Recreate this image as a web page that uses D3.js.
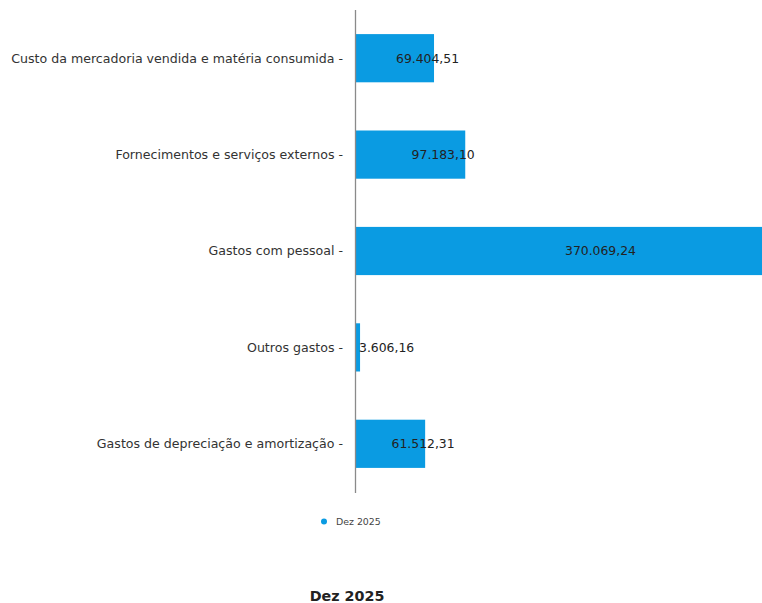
<!DOCTYPE html>
<html><head><meta charset="utf-8">
<script src="https://cdn.jsdelivr.net/npm/d3@7"></script>
<style>html,body{margin:0;padding:0;background:#fff;overflow:hidden}</style>
</head><body>
<svg id="chart" width="762" height="603"></svg>
<script>
const categories = [
  "Custo da mercadoria vendida e matéria consumida",
  "Fornecimentos e serviços externos",
  "Gastos com pessoal",
  "Outros gastos",
  "Gastos de depreciação e amortização"
];
const values = [69404.51, 97183.10, 370069.24, 3606.16, 61512.31];
const seriesName = "Dez 2025";
const title = "Dez 2025";

const fmt = v => {
  const parts = v.toFixed(2).split(".");
  parts[0] = parts[0].replace(/\B(?=(\d{3})+(?!\d))/g, ".");
  return parts.join(",");
};

const svg = d3.select("#chart");
const font = "DejaVu Sans, sans-serif";
const x0 = 356;
const x = d3.scaleLinear().domain([0, 370069.24]).range([x0, x0 + 416]);
const y = d3.scaleBand().domain(categories).range([10, 492]).paddingInner(0.5).paddingOuter(0.25);

const color = "#0a9be2";

svg.selectAll("rect.bar").data(values).enter().append("rect")
  .attr("class", "bar")
  .attr("x", x(0))
  .attr("y", (d, i) => y(categories[i]))
  .attr("width", d => x(d) - x(0))
  .attr("height", y.bandwidth())
  .attr("fill", color);

// axis line
svg.append("line").attr("x1", x0 - 0.5).attr("x2", x0 - 0.5).attr("y1", 10).attr("y2", 493)
  .attr("stroke", "#8a8a8a").attr("stroke-width", 1.3);

// category labels
svg.selectAll("text.cat").data(categories).enter().append("text")
  .attr("class", "cat")
  .attr("x", 343)
  .attr("y", d => y(d) + y.bandwidth() / 2)
  .attr("dy", "0.35em")
  .attr("text-anchor", "end")
  .attr("font-family", font).attr("font-size", 12.6).attr("fill", "#333")
  .text(d => d + " -");

// value labels
svg.selectAll("text.val").data(values).enter().append("text")
  .attr("class", "val")
  .attr("x", d => (x(0) + x(d)) / 2 + 1)
  .attr("y", (d, i) => y(categories[i]) + y.bandwidth() / 2)
  .attr("dy", "0.35em")
  .attr("text-anchor", "start")
  .attr("font-family", font).attr("font-size", 12.4).attr("fill", "#222")
  .text(d => fmt(d));

// legend
svg.append("circle").attr("cx", 324).attr("cy", 521.5).attr("r", 3).attr("fill", color);
svg.append("text").attr("x", 336).attr("y", 521.5).attr("dy", "0.35em")
  .attr("font-family", font).attr("font-size", 9.4).attr("fill", "#444").text(seriesName);

// title
svg.append("text").attr("x", 347).attr("y", 601).attr("text-anchor", "middle")
  .attr("font-family", font).attr("font-size", 14.3).attr("font-weight", "bold").attr("fill", "#222").text(title);
</script>
</body></html>
